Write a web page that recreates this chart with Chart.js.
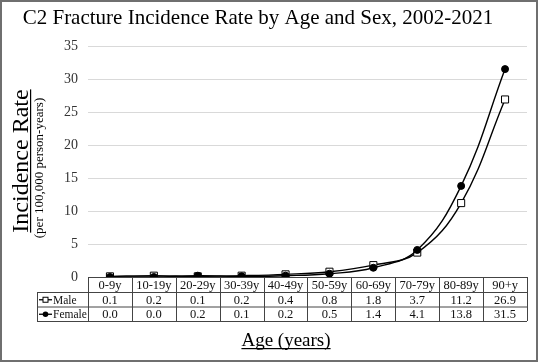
<!DOCTYPE html>
<html>
<head>
<meta charset="utf-8">
<script src="https://cdn.jsdelivr.net/npm/chart.js@4.4.1/dist/chart.umd.min.js"></script>
<style>
  html, body { margin: 0; padding: 0; background: #fff; }
  #wrap { width: 538px; height: 362px; }
</style>
</head>
<body>
<div id="wrap"><canvas id="chartC2"></canvas></div>
<script>
// dados do grafico
const ageGroups = ['0-9y', '10-19y', '20-29y', '30-39y', '40-49y', '50-59y', '60-69y', '70-79y', '80-89y', '90+y'];
const maleRates = [0.1, 0.2, 0.1, 0.2, 0.4, 0.8, 1.8, 3.7, 11.2, 26.9];
const femaleRates = [0.0, 0.0, 0.2, 0.1, 0.2, 0.5, 1.4, 4.1, 13.8, 31.5];
const seriesNames = ['Male', 'Female'];
const yMax = 35;
const yStep = 5;

const serif = '"Liberation Serif", "Times New Roman", serif';

// linhas da tabela embaixo do grafico
const tabela = {
    top: 277,
    rowH: [15, 14.5, 14.5],
    legLeft: 37
};

function drawMarker(ctx, kind, x, y) {
    ctx.save();
    ctx.lineWidth = 1;
    ctx.strokeStyle = '#000';
    if (kind === 'Male') {
        ctx.fillStyle = '#fff';
        ctx.fillRect(x - 2.5, y - 2.5, 5, 5);
        ctx.strokeRect(x - 2.5, y - 2.5, 5, 5);
    } else {
        ctx.fillStyle = '#000';
        ctx.beginPath();
        ctx.arc(x, y, 2.8, 0, Math.PI * 2);
        ctx.fill();
    }
    ctx.restore();
}

const extrasPlugin = {
    id: 'extras',
    afterDraw(chart) {
        const ctx = chart.ctx;
        const x = chart.scales.x;

        ctx.save();

        // titulo
        ctx.fillStyle = '#000';
        ctx.font = '21px ' + serif;
        ctx.textAlign = 'center';
        ctx.textBaseline = 'alphabetic';
        ctx.fillText('C2 Fracture Incidence Rate by Age and Sex, 2002-2021', 258, 24);

        // titulo do eixo y
        ctx.save();
        ctx.translate(28, 161);
        ctx.rotate(-Math.PI / 2);
        ctx.font = '24px ' + serif;
        ctx.fillText('Incidence Rate', 0, 0);
        let w = ctx.measureText('Incidence Rate').width;
        ctx.fillRect(-w / 2, 2, w, 1.2);
        ctx.restore();

        ctx.save();
        ctx.translate(43, 168);
        ctx.rotate(-Math.PI / 2);
        ctx.font = '13px ' + serif;
        ctx.fillText('(per 100,000 person-years)', 0, 0);
        ctx.restore();

        // tabela de dados
        const half = (x.getPixelForValue(1) - x.getPixelForValue(0)) / 2;
        const left = x.getPixelForValue(0) - half;
        const right = x.getPixelForValue(ageGroups.length - 1) + half;
        const y0 = tabela.top;
        const y1 = y0 + tabela.rowH[0];
        const y2 = y1 + tabela.rowH[1];
        const y3 = y2 + tabela.rowH[2];

        ctx.strokeStyle = '#444';
        ctx.lineWidth = 1;
        ctx.beginPath();
        ctx.moveTo(left, y0 + 0.5); ctx.lineTo(right, y0 + 0.5);
        ctx.moveTo(tabela.legLeft, y1 + 0.5); ctx.lineTo(right, y1 + 0.5);
        ctx.moveTo(tabela.legLeft, y2 + 0.5); ctx.lineTo(right, y2 + 0.5);
        ctx.moveTo(tabela.legLeft, y3 + 0.5); ctx.lineTo(right, y3 + 0.5);
        ctx.moveTo(tabela.legLeft + 0.5, y1); ctx.lineTo(tabela.legLeft + 0.5, y3);
        for (let i = 0; i <= ageGroups.length; i++) {
            const cx = Math.round(left + i * half * 2) + 0.5;
            ctx.moveTo(cx, y0); ctx.lineTo(cx, y3);
        }
        ctx.stroke();

        ctx.fillStyle = '#111';
        ctx.font = '12.5px ' + serif;
        ctx.textAlign = 'center';
        ctx.textBaseline = 'middle';
        for (let i = 0; i < ageGroups.length; i++) {
            const cx = x.getPixelForValue(i);
            ctx.fillText(ageGroups[i], cx, (y0 + y1) / 2 + 1);
            ctx.fillText(maleRates[i].toFixed(1), cx, (y1 + y2) / 2 + 1);
            ctx.fillText(femaleRates[i].toFixed(1), cx, (y2 + y3) / 2 + 1);
        }

        // legenda dentro da tabela
        ctx.textAlign = 'left';
        ctx.font = '11.5px ' + serif;
        [[seriesNames[0], y1, y2], [seriesNames[1], y2, y3]].forEach(function (r) {
            const cy = (r[1] + r[2]) / 2 + 0.5;
            ctx.strokeStyle = '#000';
            ctx.lineWidth = 1.3;
            ctx.beginPath();
            ctx.moveTo(tabela.legLeft + 2, cy); ctx.lineTo(tabela.legLeft + 15, cy);
            ctx.stroke();
            drawMarker(ctx, r[0], tabela.legLeft + 8.5, cy);
            ctx.fillStyle = '#111';
            ctx.fillText(r[0], tabela.legLeft + 16, cy + 1);
        });

        // titulo do eixo x
        ctx.fillStyle = '#000';
        ctx.font = '19px ' + serif;
        ctx.textAlign = 'center';
        ctx.textBaseline = 'alphabetic';
        ctx.fillText('Age (years)', 286, 346);
        w = ctx.measureText('Age (years)').width;
        ctx.fillRect(286 - w / 2, 348, w, 1.2);

        // borda externa
        ctx.strokeStyle = '#6f6f6f';
        ctx.lineWidth = 2;
        ctx.strokeRect(1, 1, chart.width - 2, chart.height - 2);

        ctx.restore();
    }
};

const grafico = document.getElementById('chartC2');

new Chart(grafico, {
    type: 'line',
    data: {
        labels: ageGroups,
        datasets: [{
            label: seriesNames[0],
            data: maleRates,
            borderColor: '#000',
            borderWidth: 1.4,
            tension: 0.4,
            pointStyle: 'rect',
            pointRadius: 5,
            pointBackgroundColor: '#fff',
            pointBorderColor: '#000',
            pointBorderWidth: 1,
            order: 1
        },
        {
            label: seriesNames[1],
            data: femaleRates,
            borderColor: '#000',
            borderWidth: 1.4,
            tension: 0.4,
            pointStyle: 'circle',
            pointRadius: 3.5,
            pointBackgroundColor: '#000',
            pointBorderColor: '#000',
            pointBorderWidth: 1,
            order: 0
        }]
    },
    options: {
        responsive: true,
        maintainAspectRatio: false,
        animation: false,
        devicePixelRatio: 1,
        layout: {
            padding: { left: 0, right: 11, top: 46, bottom: 85 }
        },
        plugins: {
            legend: { display: false },
            title: { display: false },
            tooltip: { enabled: false }
        },
        scales: {
            x: {
                display: false,
                offset: true
            },
            y: {
                min: 0,
                max: yMax,
                afterFit: function (scale) { scale.width = 88; },
                ticks: {
                    stepSize: yStep,
                    padding: 10,
                    color: '#333',
                    font: { family: serif, size: 14 }
                },
                grid: {
                    color: '#d9d9d9',
                    lineWidth: 1,
                    drawTicks: false
                },
                border: { display: false }
            }
        }
    },
    plugins: [extrasPlugin]
});
</script>
</body>
</html>
